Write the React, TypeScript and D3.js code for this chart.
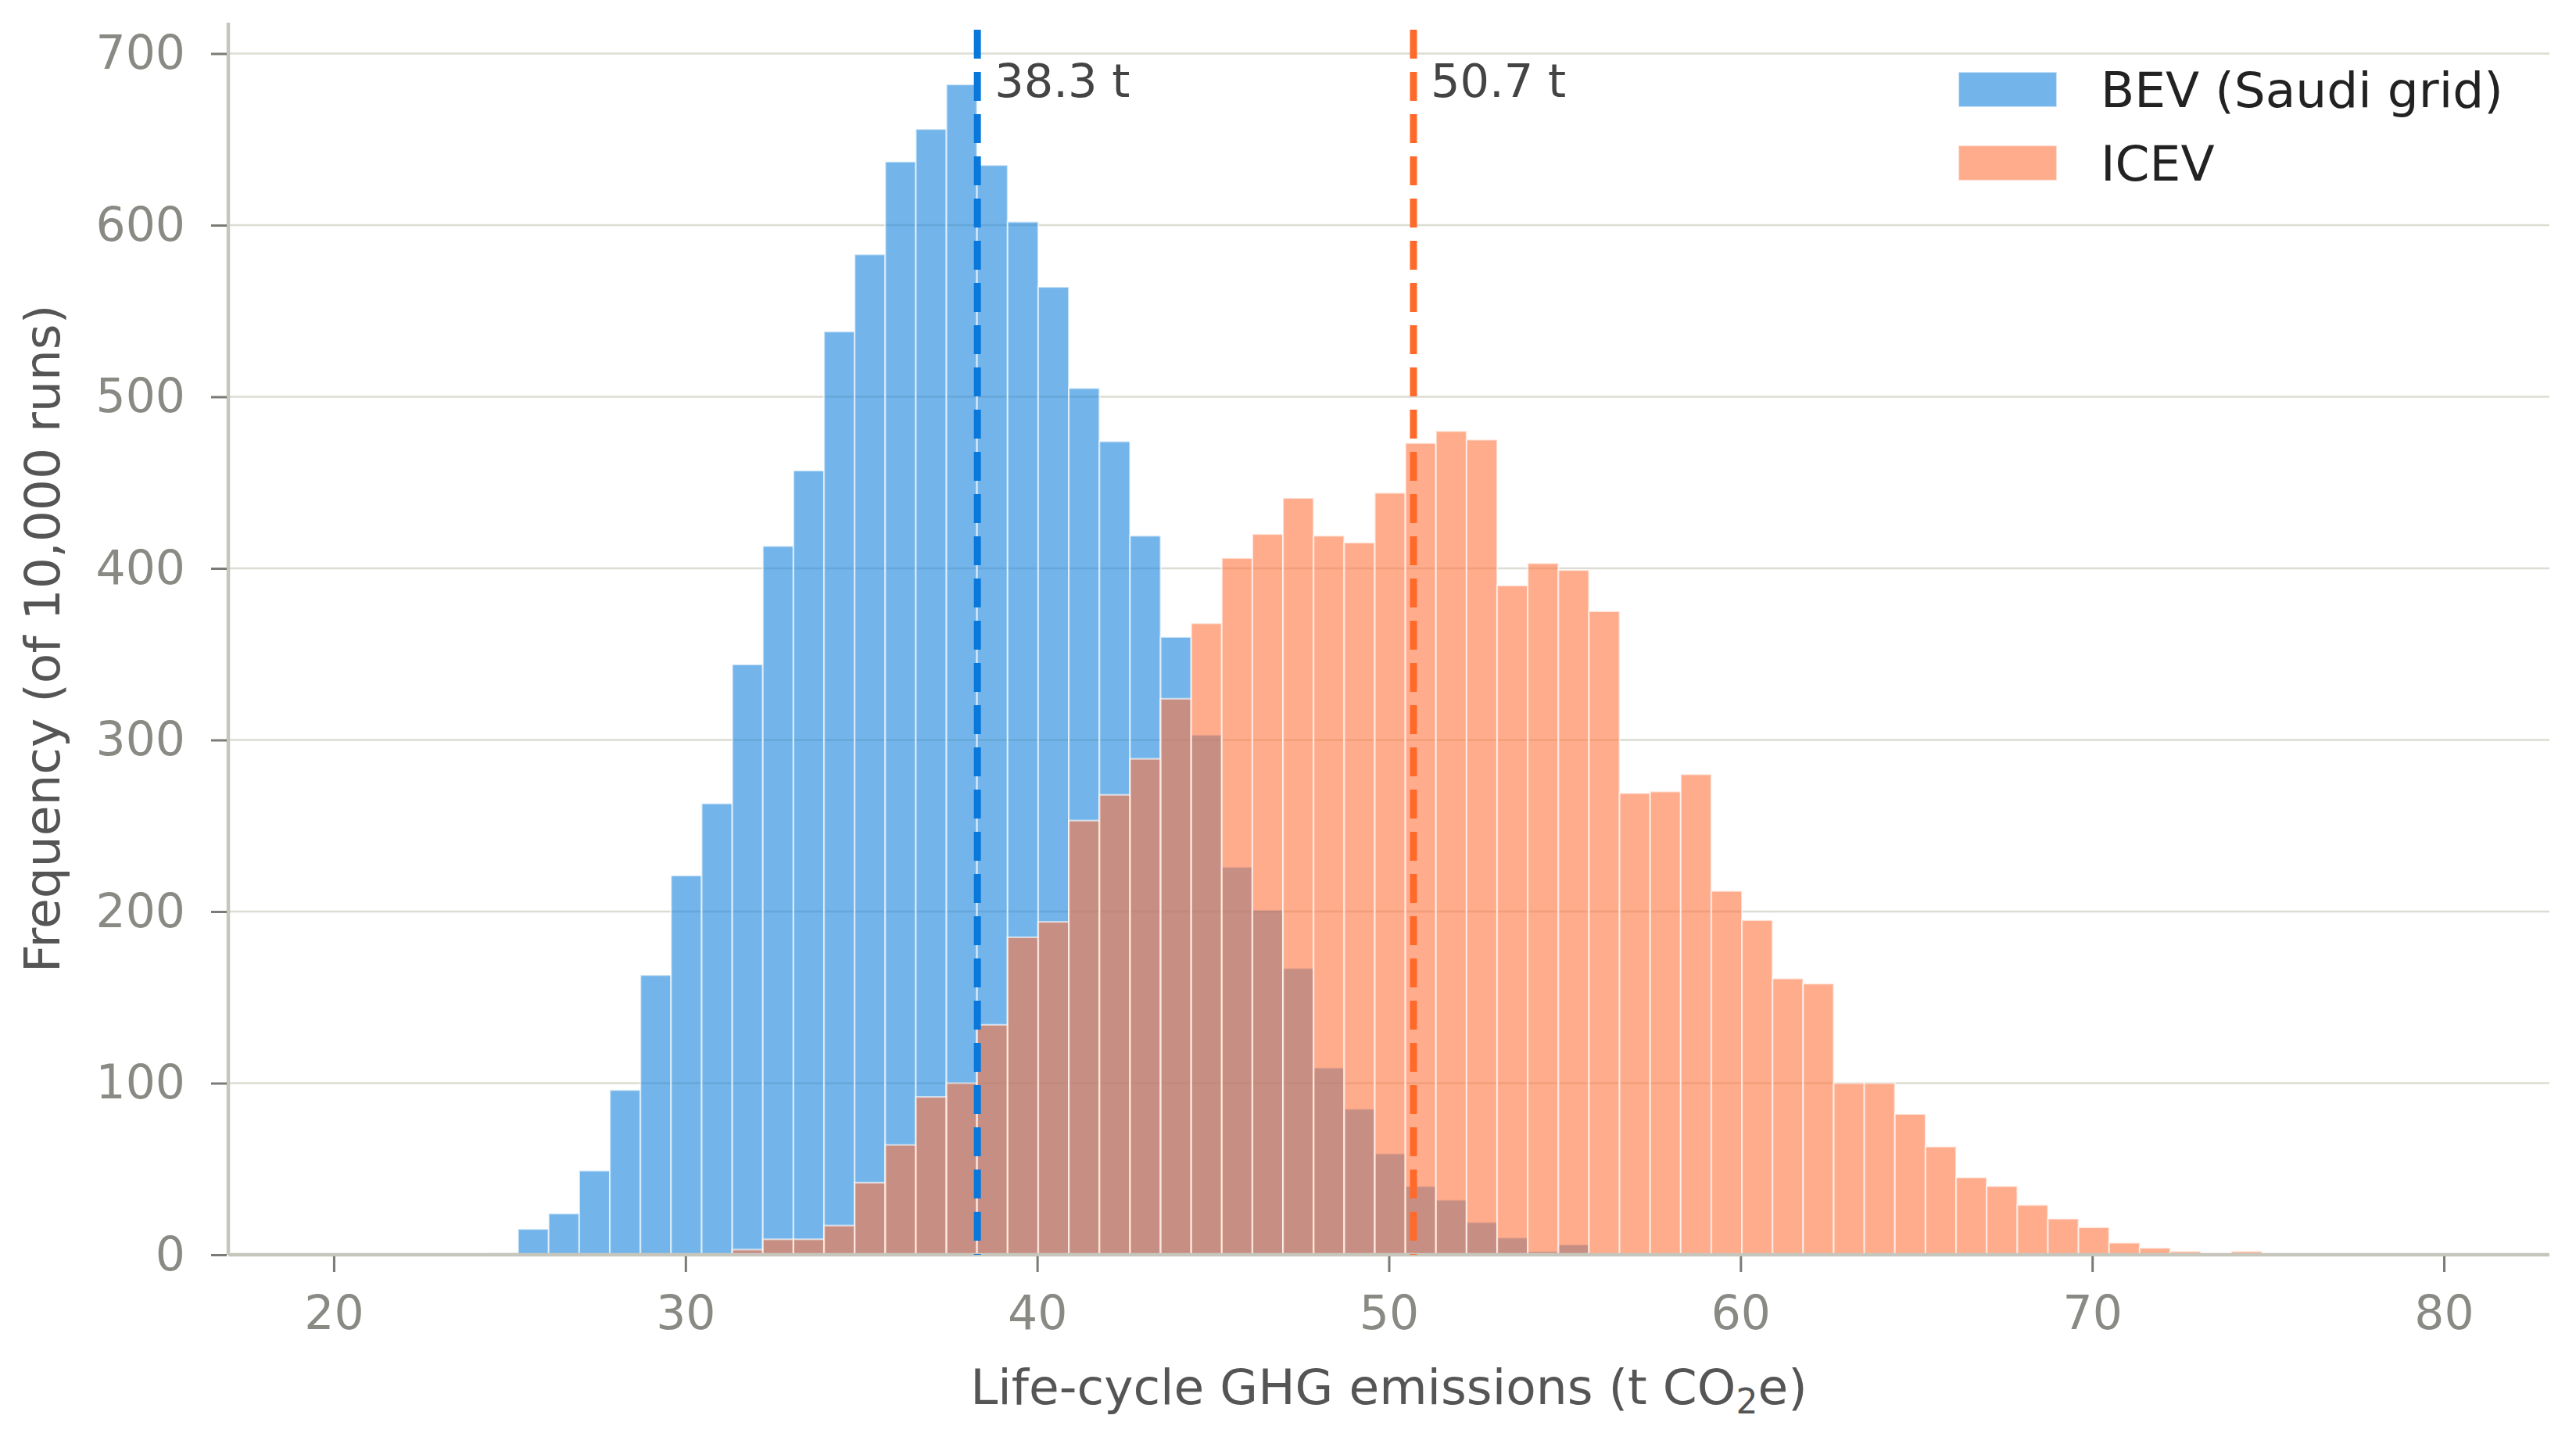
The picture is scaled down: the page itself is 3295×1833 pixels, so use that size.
import React, { useRef, useEffect } from 'react';
import * as d3 from 'd3';

// shared histogram bin edges (t CO2e)
const binEdges = [
  24.37, 25.24, 26.11, 26.98, 27.85, 28.72, 29.59, 30.46, 31.33, 32.2,
  33.07, 33.94, 34.81, 35.68, 36.55, 37.42, 38.29, 39.16, 40.03, 40.9,
  41.77, 42.64, 43.51, 44.38, 45.25, 46.12, 46.99, 47.86, 48.73, 49.6,
  50.47, 51.34, 52.21, 53.08, 53.95, 54.82, 55.69, 56.56, 57.43, 58.3,
  59.17, 60.04, 60.91, 61.78, 62.65, 63.52, 64.39, 65.26, 66.13, 67.0,
  67.87, 68.74, 69.61, 70.48, 71.35, 72.22, 73.09, 73.96, 74.83,
];

const bevCounts = [
  1, 15, 24, 49, 96, 163, 221, 263, 344, 413,
  457, 538, 583, 637, 656, 682, 635, 602, 564, 505,
  474, 419, 360, 303, 226, 201, 167, 109, 85, 59,
  40, 32, 19, 10, 2, 6, 1, 0, 0, 0,
  0, 0, 0, 0, 0, 0, 0, 0, 0, 0,
  0, 0, 0, 0, 0, 0, 0, 0,
];

const icevCounts = [
  0, 0, 0, 0, 0, 0, 0, 0, 3, 9,
  9, 17, 42, 64, 92, 100, 134, 185, 194, 253,
  268, 289, 324, 368, 406, 420, 441, 419, 415, 444,
  473, 480, 475, 390, 403, 399, 375, 269, 270, 280,
  212, 195, 161, 158, 100, 100, 82, 63, 45, 40,
  29, 21, 16, 7, 4, 2, 1, 2,
];

const seriesNames = ['BEV (Saudi grid)', 'ICEV'];
const meanValues = [38.3, 50.7];
const meanLabels = ['38.3 t', '50.7 t'];
const xTicks = [20, 30, 40, 50, 60, 70, 80];
const yTicks = [0, 100, 200, 300, 400, 500, 600, 700];

const barColors = ['#1684dc', '#ff753f'];
const lineColors = ['#0a78da', '#ff6a2b'];
const FONT = 'DejaVu Sans';

function App() {
  const svgRef = useRef(null);

  useEffect(() => {
    const svg = d3.select(svgRef.current);
    svg.selectAll('*').remove();

    const width = 3295;
    const height = 1833;
    const margin = { top: 29, right: 34, bottom: 228, left: 292 };

    const x = d3.scaleLinear()
      .domain([17, 83])
      .range([margin.left, width - margin.right]);

    const y = d3.scaleLinear()
      .domain([0, 718])
      .range([height - margin.bottom, margin.top]);

    // horizontal grid behind the bars
    svg.append('g')
      .selectAll('line')
      .data(yTicks)
      .enter().append('line')
      .attr('x1', x.range()[0])
      .attr('x2', x.range()[1])
      .attr('y1', d => y(d))
      .attr('y2', d => y(d))
      .attr('stroke', '#dcdcd2')
      .attr('stroke-width', 2.5);

    const drawHist = (counts, color) => {
      const bins = counts.map((c, i) => ({ x0: binEdges[i], x1: binEdges[i + 1], c }))
        .filter(b => b.c > 0);
      svg.append('g')
        .selectAll('rect')
        .data(bins)
        .enter().append('rect')
        .attr('x', d => x(d.x0))
        .attr('width', d => x(d.x1) - x(d.x0))
        .attr('y', d => y(d.c))
        .attr('height', d => y(0) - y(d.c))
        .attr('fill', color)
        .attr('fill-opacity', 0.6)
        .attr('stroke', '#ffffff')
        .attr('stroke-opacity', 0.6)
        .attr('stroke-width', 2.2);
    };

    drawHist(bevCounts, barColors[0]);
    drawHist(icevCounts, barColors[1]);

    // spines
    svg.append('line')
      .attr('x1', margin.left).attr('x2', margin.left)
      .attr('y1', y(0)).attr('y2', margin.top)
      .attr('stroke', '#c6c6bc').attr('stroke-width', 4.5);
    svg.append('line')
      .attr('x1', margin.left).attr('x2', width - margin.right)
      .attr('y1', y(0)).attr('y2', y(0))
      .attr('stroke', '#c6c6bc').attr('stroke-width', 4.5);

    const styleAxis = g => {
      g.select('.domain').remove();
      g.selectAll('.tick line').attr('stroke', '#7a7a76').attr('stroke-width', 3);
      g.selectAll('.tick text')
        .attr('fill', '#8a8a84')
        .attr('font-family', FONT)
        .attr('font-size', 60);
    };

    svg.append('g')
      .attr('transform', `translate(0,${y(0) + 2})`)
      .call(d3.axisBottom(x).tickValues(xTicks).tickSize(20).tickPadding(30))
      .call(styleAxis);

    svg.append('g')
      .attr('transform', `translate(${margin.left - 2},0)`)
      .call(d3.axisLeft(y).tickValues(yTicks).tickSize(20).tickPadding(33))
      .call(styleAxis);

    // axis labels
    const xLabel = svg.append('text')
      .attr('x', (x.range()[0] + x.range()[1]) / 2)
      .attr('y', 1796)
      .attr('text-anchor', 'middle')
      .attr('font-family', FONT)
      .attr('font-size', 63)
      .attr('fill', '#555555');
    xLabel.append('tspan').text('Life-cycle GHG emissions (t CO');
    xLabel.append('tspan').attr('font-size', 44).attr('dy', 12).text('2');
    xLabel.append('tspan').attr('dy', -12).text('e)');

    svg.append('text')
      .attr('transform', `translate(76,${(y(0) + margin.top) / 2}) rotate(-90)`)
      .attr('text-anchor', 'middle')
      .attr('font-family', FONT)
      .attr('font-size', 63)
      .attr('fill', '#555555')
      .text('Frequency (of 10,000 runs)');

    // mean lines
    meanValues.forEach((m, i) => {
      svg.append('line')
        .attr('x1', x(m)).attr('x2', x(m))
        .attr('y1', 38).attr('y2', y(0))
        .attr('stroke', lineColors[i])
        .attr('stroke-width', 9)
        .attr('stroke-dasharray', '37 17');
      svg.append('text')
        .attr('x', x(m) + 22)
        .attr('y', 124)
        .attr('font-family', FONT)
        .attr('font-size', 59)
        .attr('fill', '#444444')
        .text(meanLabels[i]);
    });

    // legend
    const legend = svg.append('g')
      .selectAll('g')
      .data(seriesNames)
      .enter().append('g')
      .attr('transform', (d, i) => `translate(2505,${92 + 94 * i})`);

    legend.append('rect')
      .attr('width', 126)
      .attr('height', 45)
      .attr('fill', (d, i) => barColors[i])
      .attr('fill-opacity', 0.6)
      .attr('stroke', '#ffffff')
      .attr('stroke-opacity', 0.6)
      .attr('stroke-width', 2.2);

    legend.append('text')
      .attr('x', 182)
      .attr('y', 45)
      .attr('font-family', FONT)
      .attr('font-size', 63)
      .attr('fill', '#222222')
      .text(d => d);
  }, []);

  return (
    <div style={{ position: 'absolute', left: 0, top: 0 }}>
      <svg ref={svgRef} width={3295} height={1833} style={{ display: 'block', background: '#ffffff' }} />
    </div>
  );
}

export default App;
